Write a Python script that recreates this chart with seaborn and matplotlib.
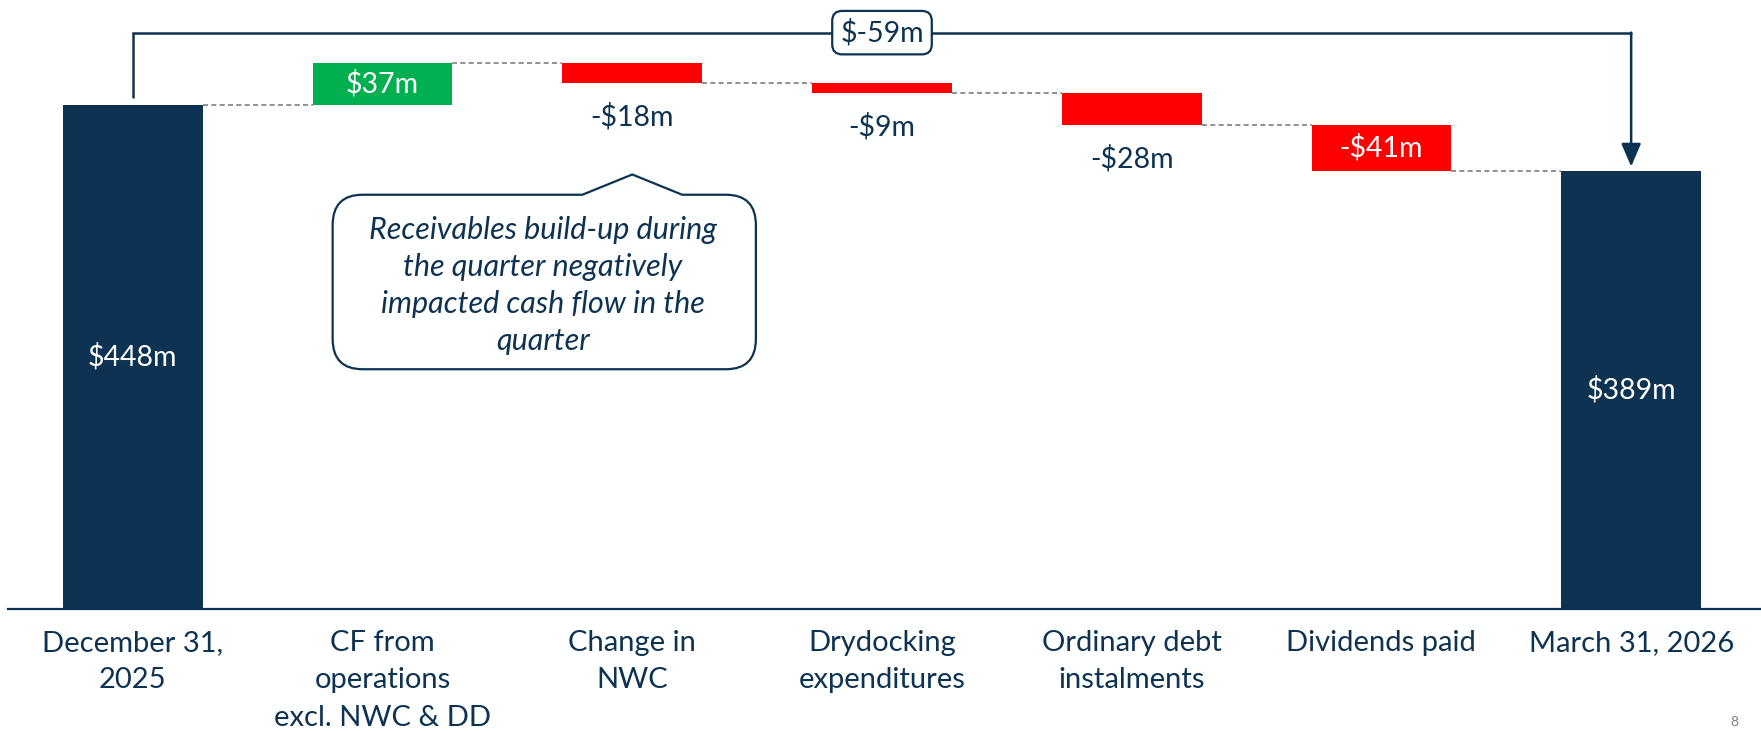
import numpy as np
import pandas as pd
import matplotlib
matplotlib.use("Agg")
import matplotlib.pyplot as plt
import seaborn as sns
from matplotlib.path import Path
from matplotlib.patches import PathPatch

# ---------------- data ----------------
categories = [
    "December 31,\n2025",
    "CF from\noperations\nexcl. NWC & DD",
    "Change in\nNWC",
    "Drydocking\nexpenditures",
    "Ordinary debt\ninstalments",
    "Dividends paid",
    "March 31, 2026",
]
changes = [448, 37, -18, -9, -28, -41, 389]
kinds = ["total", "up", "down", "down", "down", "down", "total"]
value_labels = ["$448m", "$37m", "-$18m", "-$9m", "-$28m", "-$41m", "$389m"]
net_change_label = "$-59m"
callout_text = ("Receivables build-up during\nthe quarter negatively\n"
                "impacted cash flow in the\nquarter")
page_number = "8"

NAVY = "#0E3252"
GREEN = "#00B050"
RED = "#FF0000"
GRAY = "#7F7F7F"
kind_colors = {"total": NAVY, "up": GREEN, "down": RED}

# ---------------- waterfall geometry from data ----------------
bottoms, heights, levels = [], [], []
level = 0
for v, k in zip(changes, kinds):
    if k == "total":
        bottoms.append(0)
        heights.append(v)
        level = v
    else:
        new = level + v
        bottoms.append(min(level, new))
        heights.append(abs(v))
        level = new
    levels.append(level)

df = pd.DataFrame({"category": categories, "height": heights, "bottom": bottoms})

# ---------------- figure ----------------
sns.set_theme(style="white")
plt.rcParams["font.family"] = ["Lato", "DejaVu Sans"]

W, H = 1761, 731
fig = plt.figure(figsize=(W / 100, H / 100), dpi=100)
ax = fig.add_axes([8 / W, 122 / H, 1 - 8 / W, 609 / H])

BAR_W = 0.56
sns.barplot(data=df, x="category", y="height", bottom=df["bottom"].to_numpy(),
            color=NAVY, saturation=1, width=BAR_W, linewidth=0, ax=ax)
for patch, k in zip(ax.patches, kinds):
    patch.set_facecolor(kind_colors[k])
    patch.set_edgecolor("none")

ax.set_xlim(-0.5, 6.52)
ax.set_ylim(0, 541)
ax.set_xlabel("")
ax.set_ylabel("")
ax.set_yticks([])
for s in ["top", "left", "right"]:
    ax.spines[s].set_visible(False)
ax.spines["bottom"].set_color(NAVY)
ax.spines["bottom"].set_linewidth(1.6)
ax.tick_params(axis="x", length=0, pad=15, labelsize=21, labelcolor=NAVY)
for lab in ax.get_xticklabels():
    lab.set_linespacing(1.55)

# connectors
for i in range(len(changes) - 1):
    ax.plot([i + BAR_W / 2, i + 1 - BAR_W / 2], [levels[i], levels[i]],
            color=GRAY, lw=1.2, ls=(0, (3, 2)), zorder=1)

# value labels
VAL_FS = 20.5
for i, (v, k, lab) in enumerate(zip(changes, kinds, value_labels)):
    b, h = bottoms[i], heights[i]
    if k == "total" or abs(v) >= 30:
        ax.text(i, b + h / 2, lab, ha="center", va="center", color="white",
                fontsize=VAL_FS, zorder=5)
    else:
        ax.annotate(lab, xy=(i, b), xytext=(0, -24), textcoords="offset points",
                    ha="center", va="center", color=NAVY, fontsize=VAL_FS)

# bracket with net change
top_y = max(levels) + 27
ax.plot([0, 0, len(changes) - 1], [levels[0] + 7, top_y, top_y], color=NAVY,
        lw=1.8, clip_on=False, zorder=3, solid_joinstyle="miter")
ax.annotate("", xy=(len(changes) - 1, levels[-1] + 4),
            xytext=(len(changes) - 1, top_y),
            arrowprops=dict(arrowstyle="-|>,head_length=0.7,head_width=0.3",
                            color=NAVY, lw=1.8, shrinkA=0, shrinkB=0,
                            mutation_scale=20),
            annotation_clip=False, zorder=3)
ax.text((len(changes) - 1) / 2, top_y, net_change_label, ha="center", va="center",
        color=NAVY, fontsize=VAL_FS, zorder=6,
        bbox=dict(boxstyle="round,pad=0.28,rounding_size=0.35", fc="white",
                  ec=NAVY, lw=1.6))

# callout bubble pointing to "Change in NWC"
L, R, B, T = 0.80, 2.495, 213, 368
apex = (2.0, 386)
b0, b1 = 1.80, 2.20
rx, ry = 0.12, 27
verts = [
    (L + rx, T), (b0, T), apex, (b1, T), (R - rx, T),
    (R, T), (R, T - ry),
    (R, B + ry),
    (R, B), (R - rx, B),
    (L + rx, B),
    (L, B), (L, B + ry),
    (L, T - ry),
    (L, T), (L + rx, T),
    (L + rx, T),
]
codes = [Path.MOVETO, Path.LINETO, Path.LINETO, Path.LINETO, Path.LINETO,
         Path.CURVE3, Path.CURVE3,
         Path.LINETO,
         Path.CURVE3, Path.CURVE3,
         Path.LINETO,
         Path.CURVE3, Path.CURVE3,
         Path.LINETO,
         Path.CURVE3, Path.CURVE3,
         Path.CLOSEPOLY]
ax.add_patch(PathPatch(Path(verts, codes), fc="white", ec=NAVY, lw=1.6,
                       zorder=4, clip_on=False))
ax.text((L + R) / 2 - 0.005, (B + T) / 2 - 3, callout_text, ha="center",
        va="center", color=NAVY, fontsize=22, style="italic",
        linespacing=1.4, zorder=5)

fig.text(0.985, 0.012, page_number, ha="center", va="center", color=GRAY,
         fontsize=10)

fig.savefig("out.png", dpi=100)
